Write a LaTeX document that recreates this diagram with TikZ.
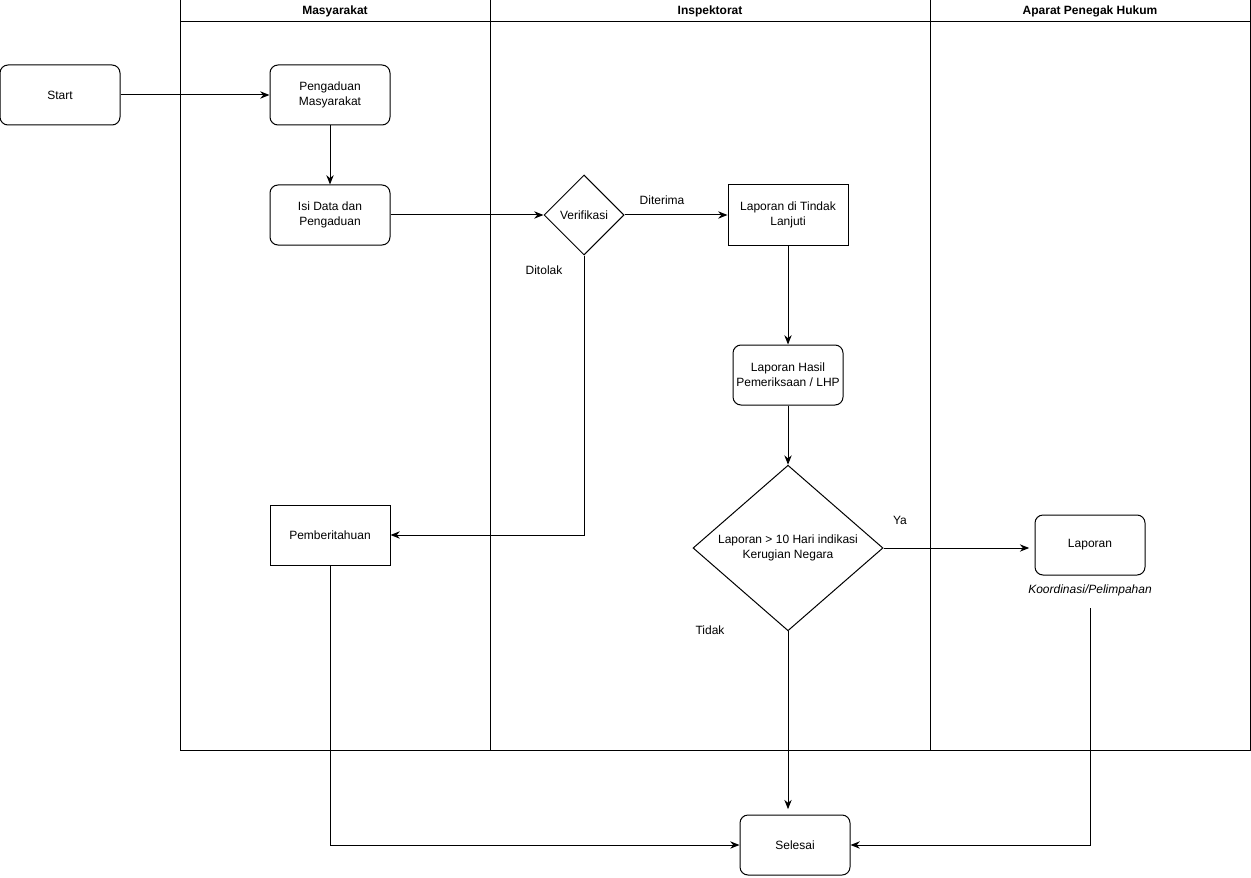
\documentclass[tikz,border=0pt]{standalone}
\usepackage{fontspec}
\setmainfont{Liberation Sans}
\usetikzlibrary{shapes.geometric,arrows.meta}

\begin{document}
\begin{tikzpicture}[x=0.75pt,y=-0.75pt,
  font=\fontsize{9}{11}\selectfont,
  lane/.style={line width=0.75pt},
  rbox/.style={draw,line width=0.75pt,rounded corners=6pt,align=center,minimum width=90pt,minimum height=45pt,inner sep=1pt},
  sbox/.style={draw,line width=0.75pt,align=center,minimum width=90pt,minimum height=45pt,inner sep=1pt},
  dec/.style={draw,line width=0.75pt,diamond,align=center,inner sep=0pt},
  flow/.style={line width=0.75pt,-{Stealth[length=7pt,width=5.5pt]}}]
  \useasboundingbox (0,0) rectangle (1251,877);
  % pool and lanes
  \draw[lane] (180,0) rectangle (1250,750);
  \draw[lane] (180,22) -- (1250,22);
  \draw[lane] (490,0) -- (490,750);
  \draw[lane] (930,0) -- (930,750);
  \node[font=\fontsize{9}{11}\selectfont\bfseries] (hmas) at (335,11) {Masyarakat};
  \node[font=\fontsize{9}{11}\selectfont\bfseries] (hins) at (710,11) {Inspektorat};
  \node[font=\fontsize{9}{11}\selectfont\bfseries] (hapa) at (1090,11) {Aparat Penegak Hukum};
  % steps
  \node[rbox] (start) at (60,95) {Start};
  \node[rbox] (peng) at (330,95) {Pengaduan\\Masyarakat};
  \node[rbox] (isi) at (330,215) {Isi Data dan\\Pengaduan};
  \node[dec,minimum width=60pt,minimum height=60pt] (verif) at (584,215) {Verifikasi};
  \node[sbox] (tindak) at (788,215) {Laporan di Tindak\\Lanjuti};
  \node[rbox,minimum width=82.5pt] (lhp) at (788,375) {Laporan Hasil\\Pemeriksaan / LHP};
  \node[dec,minimum width=142.5pt,minimum height=123.75pt] (cek) at (788,548) {Laporan {>} 10 Hari indikasi\\Kerugian Negara};
  \node[rbox,minimum width=82.5pt] (lap) at (1090,545) {Laporan};
  \node[font=\fontsize{9}{11}\selectfont\itshape] (kord) at (1090,590) {Koordinasi/Pelimpahan};
  \node[sbox] (pemb) at (330,535) {Pemberitahuan};
  \node[rbox,minimum width=82.5pt] (sel) at (795,845) {Selesai};
  % connectors
  \draw[flow] (start) -- (peng);
  \draw[flow] (peng) -- (isi);
  \draw[flow] (isi) -- (verif);
  \draw[flow] (verif) -- (tindak);
  \draw[flow] (tindak) -- (lhp);
  \draw[flow] (lhp) -- (cek);
  \draw[flow] (verif.south) |- (pemb.east);
  \draw[flow,shorten >=4pt] (cek.east) -- (cek.east -| lap.west);
  \draw[flow,shorten >=4pt] (cek.south) -- (cek.south |- sel.north);
  \draw[flow] ([yshift=-6pt]kord.south) |- (sel.east);
  \draw[flow] (pemb.south) |- (sel.west);
  % labels
  \node (lditerima) at (662,200) {Diterima};
  \node (lditolak) at (544,270) {Ditolak};
  \node (lya) at (900,520) {Ya};
  \node (ltidak) at (710,630) {Tidak};
\end{tikzpicture}
\end{document}
